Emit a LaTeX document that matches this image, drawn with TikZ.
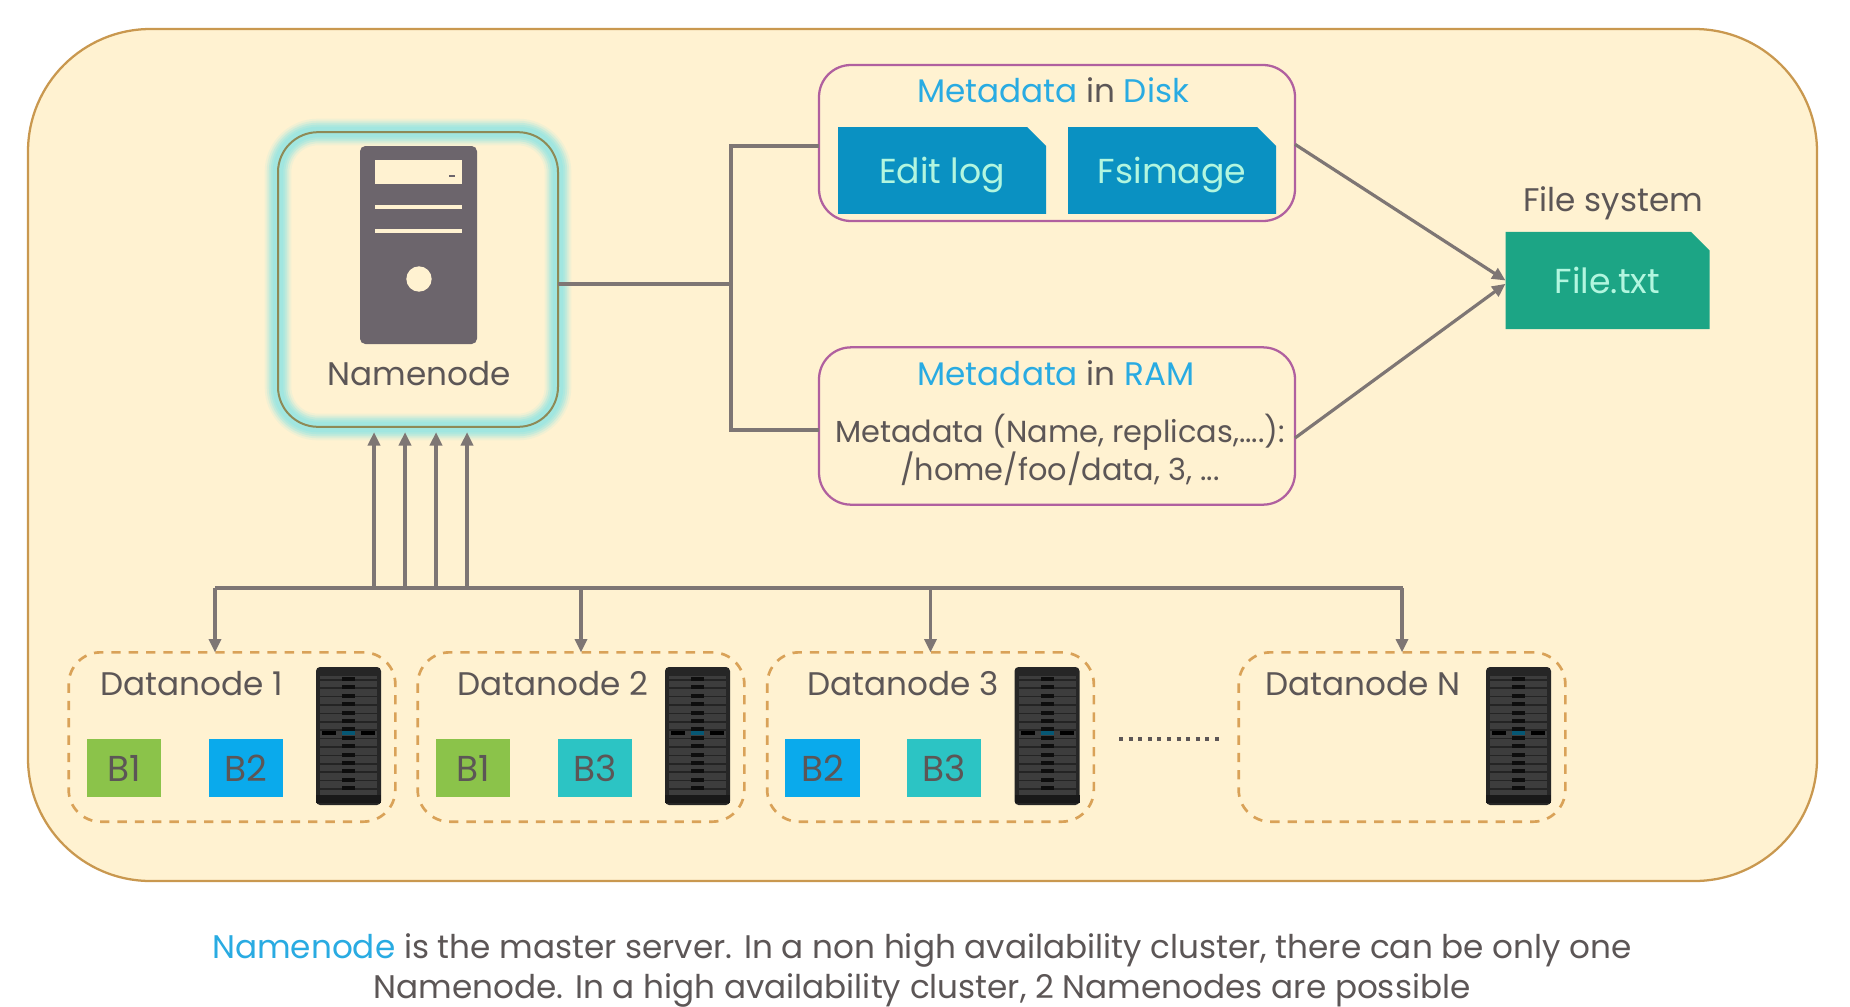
\documentclass[tikz,border=0pt]{standalone}
\usepackage{fontspec}
\setmainfont{Poppins}
\usetikzlibrary{arrows.meta,shapes.misc}
\definecolor{paper}{HTML}{FFF2D1}
\definecolor{rimbrown}{HTML}{C9984F}
\definecolor{dashorange}{HTML}{D9A258}
\definecolor{plum}{HTML}{B0609F}
\definecolor{inkgrey}{HTML}{5C5656}
\definecolor{wiregrey}{HTML}{7E7674}
\definecolor{towergrey}{HTML}{6C656C}
\definecolor{skytext}{HTML}{29ABE2}
\definecolor{logblue}{HTML}{0A91C2}
\definecolor{filegreen}{HTML}{1CA585}
\definecolor{leafgreen}{HTML}{8BC34A}
\definecolor{blockblue}{HTML}{0AAAEC}
\definecolor{blockteal}{HTML}{2CC4C4}
\newcommand{\hl}[1]{{\color{skytext}#1}}
\tikzset{
  label text/.style={font=\fontsize{24.5}{27.4}\selectfont,text=inkgrey,inner sep=0pt},
  small text/.style={font=\fontsize{22.8}{27.4}\selectfont,text=inkgrey,inner sep=0pt},
  wire/.style={draw=wiregrey,line width=2.4pt},
  wire tip/.style={wire,-{Triangle[length=10pt,width=9pt]}},
  meta box/.style={draw=plum,line width=1.7pt,rounded corners=24pt,minimum width=357pt,inner sep=0pt,outer sep=0pt},
  page box/.style={chamfered rectangle,chamfered rectangle corners=north east,chamfered rectangle xsep=7pt,chamfered rectangle ysep=7pt,fill=logblue,text=paper!70!cyan,font=\fontsize{26}{30}\selectfont,text depth=0pt,inner sep=0pt,outer sep=0pt},
  data box/.style={draw=dashorange,line width=2pt,dash pattern=on 7pt off 6pt,rounded corners=24pt,minimum width=245pt,minimum height=127pt,inner sep=0pt,outer sep=0pt},
  block/.style={minimum width=56pt,minimum height=44pt,inner sep=0pt,outer sep=0pt,text=inkgrey,font=\fontsize{27}{30}\selectfont},
  rack/.pic={
    \fill[fill=black!85,rounded corners=3pt] (0,0) rectangle (65,138);
    \fill[fill=black!76] (4,9) rectangle (61,128);
    \foreach \row in {0,...,13}{
      \fill[fill=black!86] (4,{12+8.4*\row}) rectangle (61,{13.5+8.4*\row});
      \fill[fill=black!95] (26,{10+8.4*\row}) rectangle (39,{14+8.4*\row});
    }
    \fill[fill=black] (6,64) rectangle (20,68);
    \fill[fill=black] (45,64) rectangle (59,68);
    \fill[fill=logblue!60!black] (26,64) rectangle (39,68);
    \fill[fill=black!90] (0,128) rectangle (65,136);
  }
}
\begin{document}
\begin{tikzpicture}[x=0.75pt,y=0.75pt,yscale=-1,xscale=1]
\useasboundingbox (0,0) rectangle (1850,1007);
\fill[white] (0,0) rectangle (1850,1007);

% outer panel
\draw[draw=rimbrown,fill=paper,line width=1.7pt,rounded corners=92pt] (28,29) rectangle (1817,881);

% namenode
\foreach \w/\o in {20/0.12,17/0.2,14/0.3,11/0.35,8/0.4}{
  \draw[draw=teal!45!cyan!45,opacity=\o,line width=\w pt,rounded corners=30pt] (278,132) rectangle (558,427);
}
\node[draw=black!45!olive!70,line width=1.5pt,rounded corners=30pt,minimum width=210pt,minimum height=221pt,inner sep=0pt,outer sep=0pt] (namenode) at (418,279.5) {};
\fill[towergrey,rounded corners=4pt] (360,146) rectangle (477,344);
\fill[paper] (375,160) rectangle (462,184);
\fill[towergrey] (449,175) rectangle (455,177);
\fill[paper] (375,205) rectangle (462,209);
\fill[paper] (375,229) rectangle (462,233);
\fill[paper] (419,279) circle (9.5pt);
\node[label text] (namelabel) at (419,374) {Namenode};

% metadata boxes
\node[meta box,minimum height=117pt] (metadisk) at (1057,143) {};
\node[meta box,minimum height=118pt] (metaram) at (1057,426) {};
\node[label text] (disklabel) at (1053,90) {\hl{Metadata} in \hl{Disk}};
\node[label text] (ramlabel) at (1056,373) {\hl{Metadata} in \hl{RAM}};
\node[page box,minimum width=156pt,minimum height=65pt] (editlog) at (942,170.5) {Edit log};
\node[page box,minimum width=156pt,minimum height=65pt] (fsimage) at (1172,170.5) {Fsimage};
\node[small text,align=center] (ramtext) at (1060,450) {Metadata (Name, replicas,....):\\/home/foo/data, 3, ...};

% file system
\node[label text] (fslabel) at (1613,203) {File system};
\node[page box,fill=filegreen,minimum width=153pt,minimum height=73pt] (filetxt) at (1607.5,280.5) {File.txt};

% wires from namenode
\coordinate (trunk) at (731,284);
\draw[wire] (namenode.east |- trunk) -- (trunk);
\draw[wire] ([yshift=2.25pt]metadisk.west) -| (trunk);
\draw[wire] ([yshift=3pt]metaram.west) -| (trunk);
\draw[wire tip] ([yshift=1pt]metadisk.east) -- (filetxt.west);
\draw[wire tip] ([yshift=9pt]metaram.east) -- ([yshift=2.5pt]filetxt.west);

% datanodes
\foreach \nm/\xx/\lx/\txt in {dnone/232/192/Datanode 1,dntwo/581/553/Datanode 2,dnthree/930.5/903/Datanode 3,dnlast/1402/1363/Datanode N}{
  \node[data box] (\nm) at (\xx,737) {};
  \node[label text] (\nm label) at (\lx,684) {\txt};
  \path (\xx,737) ++(84,-70) pic[transform shape] {rack};
}
\node[block,fill=leafgreen] (aone) at (124,768) {B1};
\node[block,fill=blockblue] (atwo) at (246,768) {B2};
\node[block,fill=leafgreen] (bone) at (473,768) {B1};
\node[block,fill=blockteal] (bthree) at (595,768) {B3};
\node[block,fill=blockblue] (ctwo) at (822.5,768) {B2};
\node[block,fill=blockteal] (cthree) at (944,768) {B3};
\coordinate (dotsa) at (1119,739);
\coordinate (dotsb) at (1220,739);
\draw[draw=inkgrey,line width=3pt,dash pattern=on 3pt off 4.2pt] (dotsa) -- (dotsb);

% bus
\coordinate (busleft) at (215,588);
\coordinate (busright) at (1403,588);
\draw[wire] (busleft) -- (busright);
\foreach \nm/\sh in {dnone/-12.75pt,dntwo/0pt,dnthree/0pt,dnlast/0pt}{
  \draw[wire tip] ([xshift=\sh]\nm.north |- busleft) -- ([xshift=\sh]\nm.north);
}
\foreach \xx in {374,405,436,467}{
  \coordinate (up\xx) at (\xx,588);
  \draw[wire tip,shorten >=4pt] (up\xx) -- (up\xx |- namenode.south);
}

% caption
\node[label text,align=center] (caption) at (922,970) {\hl{Namenode} is the master server. In a non high availability cluster, there can be only one\\[2.6pt]Namenode. In a high availability cluster, 2 Namenodes are possible};
\end{tikzpicture}
\end{document}
